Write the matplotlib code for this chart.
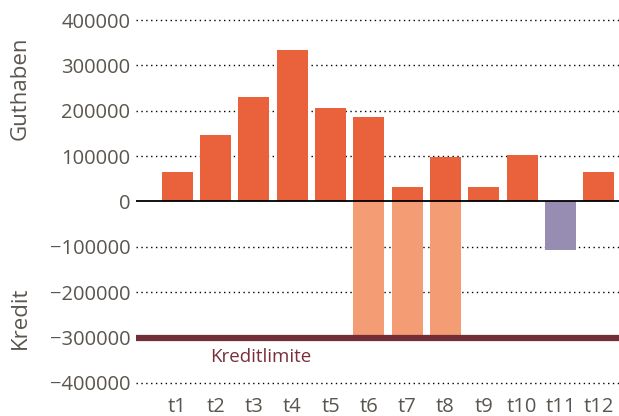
import matplotlib
matplotlib.use("Agg")
import matplotlib.pyplot as plt
import numpy as np

periods = ["t1", "t2", "t3", "t4", "t5", "t6", "t7", "t8", "t9", "t10", "t11", "t12"]
guthaben = [64000, 147000, 231000, 335000, 207000, 187000, 31000, 99000, 33000, 103000, 0, 64000]
kredit_used = [0, 0, 0, 0, 0, -300000, -300000, -300000, 0, 0, 0, 0]
kredit_other = [0, 0, 0, 0, 0, 0, 0, 0, 0, 0, -108000, 0]
kreditlimite = -300000
yticks = [400000, 300000, 200000, 100000, 0, -100000, -200000, -300000, -400000]

plt.rcParams['font.family'] = ['Open Sans', 'DejaVu Sans']
grey = "#5a554f"

W, H = 619, 416
fig = plt.figure(figsize=(W / 100, H / 100), dpi=100)
top_px, bot_px = 15.5, 387.5
left_px, right_px = 136, 619
ax = fig.add_axes([left_px / W, 1 - bot_px / H, (right_px - left_px) / W, (bot_px - top_px) / H])

x = np.arange(len(periods))
ax.set_ylim(-410000, 410000)
ax.set_xlim(-1.08, 11.53)

for y in yticks:
    if y in (0, kreditlimite):
        continue
    ax.axhline(y, color="black", linestyle=(0, (1, 2.5)), linewidth=1.0, zorder=1)

w = 0.81
ax.bar(x, guthaben, width=w, color="#EA623B", zorder=2)
ax.bar(x, kredit_used, width=w, color="#F49C74", zorder=2)
ax.bar(x, kredit_other, width=w, color="#978DB2", zorder=2)

ax.axhline(0, color="black", linewidth=1.3, zorder=3)
ax.axhline(kreditlimite, color="#722D36", linewidth=4.5, zorder=4, solid_capstyle="butt")
ax.text(0.85, kreditlimite - 22000, "Kreditlimite", color="#7a2e3a", fontsize=13.5,
        ha="left", va="top")

ax.set_yticks(yticks)
ax.set_yticklabels([f"{v}".replace("-", "\u2212") for v in yticks])
ax.set_xticks(x)
ax.set_xticklabels(periods)
ax.tick_params(axis="both", length=0, colors=grey, labelsize=14.5)
ax.tick_params(axis="y", pad=4)
ax.tick_params(axis="x", pad=7)
for s in ax.spines.values():
    s.set_visible(False)

fig.text(20 / W, 1 - 88 / H, "Guthaben", rotation=90, ha="center", va="center",
         color=grey, fontsize=16)
fig.text(20 / W, 1 - 318 / H, "Kredit", rotation=90, ha="center", va="center",
         color=grey, fontsize=16)

fig.savefig("out.png", dpi=100)
